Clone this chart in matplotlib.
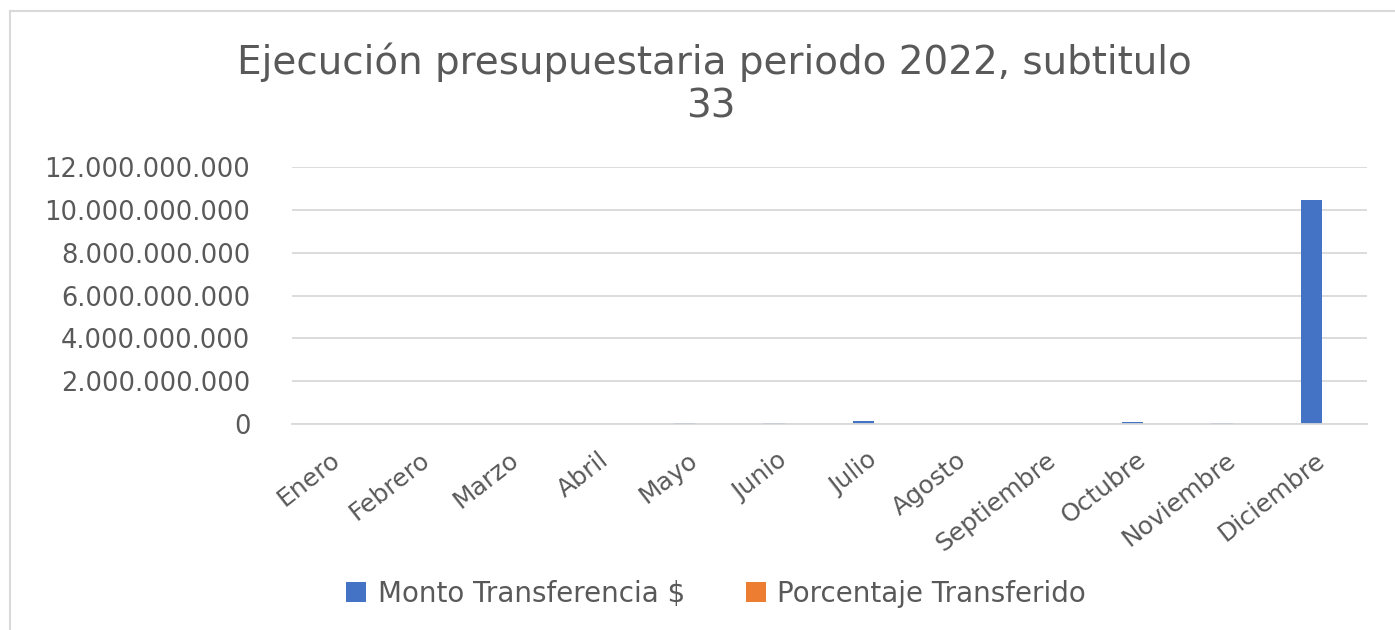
import matplotlib
matplotlib.use("Agg")
import matplotlib.pyplot as plt
import numpy as np
from matplotlib.ticker import FuncFormatter
from matplotlib.lines import Line2D

months = ["Enero", "Febrero", "Marzo", "Abril", "Mayo", "Junio", "Julio",
          "Agosto", "Septiembre", "Octubre", "Noviembre", "Diciembre"]
monto = [0, 0, 0, 0, 30_000_000, 30_000_000, 150_000_000,
         0, 0, 100_000_000, 30_000_000, 10_450_000_000]
porcentaje = [0, 0, 0, 0, 0.3, 0.3, 1.4, 0, 0, 1.0, 0.3, 98.0]
yticks = [0, 2e9, 4e9, 6e9, 8e9, 10e9, 12e9]

plt.rcParams['font.family'] = ['DejaVu Sans']
txt = '#595959'
W, H = 1395, 630
fig = plt.figure(figsize=(W/100, H/100), dpi=100)
# chart area border (top and left visible)
fig.lines.append(Line2D([10/W, 10/W], [0, 1 - 11/H], transform=fig.transFigure,
                        color='#d9d9d9', linewidth=1.5))
fig.lines.append(Line2D([10/W, 1], [1 - 11/H, 1 - 11/H], transform=fig.transFigure,
                        color='#d9d9d9', linewidth=1.5))
ax = fig.add_axes([292/W, 1 - 424/H, 1075/W, 257/H])

x = np.arange(len(months))
w = 1 / 4.19
ax.bar(x - w/2, monto, width=w, color='#4472C4', label='Monto Transferencia $')
ax.bar(x + w/2, porcentaje, width=w, color='#ED7D31', label='Porcentaje Transferido')

ax.set_xlim(-0.5, len(months) - 0.5)
ax.set_ylim(0, 12e9)
ax.set_yticks(yticks)
ax.yaxis.set_major_formatter(FuncFormatter(lambda v, p: f"{int(v):,}".replace(",", ".")))
ax.grid(axis='y', color='#d9d9d9', linewidth=1.3)
ax.set_axisbelow(True)
for s in ['top', 'right', 'left']:
    ax.spines[s].set_visible(False)
ax.spines['bottom'].set_color('#d9d9d9')
ax.spines['bottom'].set_linewidth(1.3)
ax.tick_params(axis='y', length=0, colors=txt, labelsize=18.5, pad=30)
ax.tick_params(axis='x', length=0, colors=txt, labelsize=18, pad=24)
ax.set_xticks(x)
ax.set_xticklabels(months, rotation=38, ha='right', va='center', rotation_mode='anchor')

fig.text(714/W, 1 - 62/H, "Ejecución presupuestaria periodo 2022, subtitulo", ha='center',
         va='center', fontsize=28, color=txt)
fig.text(711/W, 1 - 107/H, "33", ha='center', va='center', fontsize=28, color=txt)

fig.legend(loc='center', bbox_to_anchor=(716/W, 1 - 594/H), ncol=2, frameon=False,
           fontsize=20, labelcolor=txt, handlelength=0.72, handleheight=0.72,
           columnspacing=2.2, handletextpad=0.4)

fig.savefig("out.png", dpi=100)
